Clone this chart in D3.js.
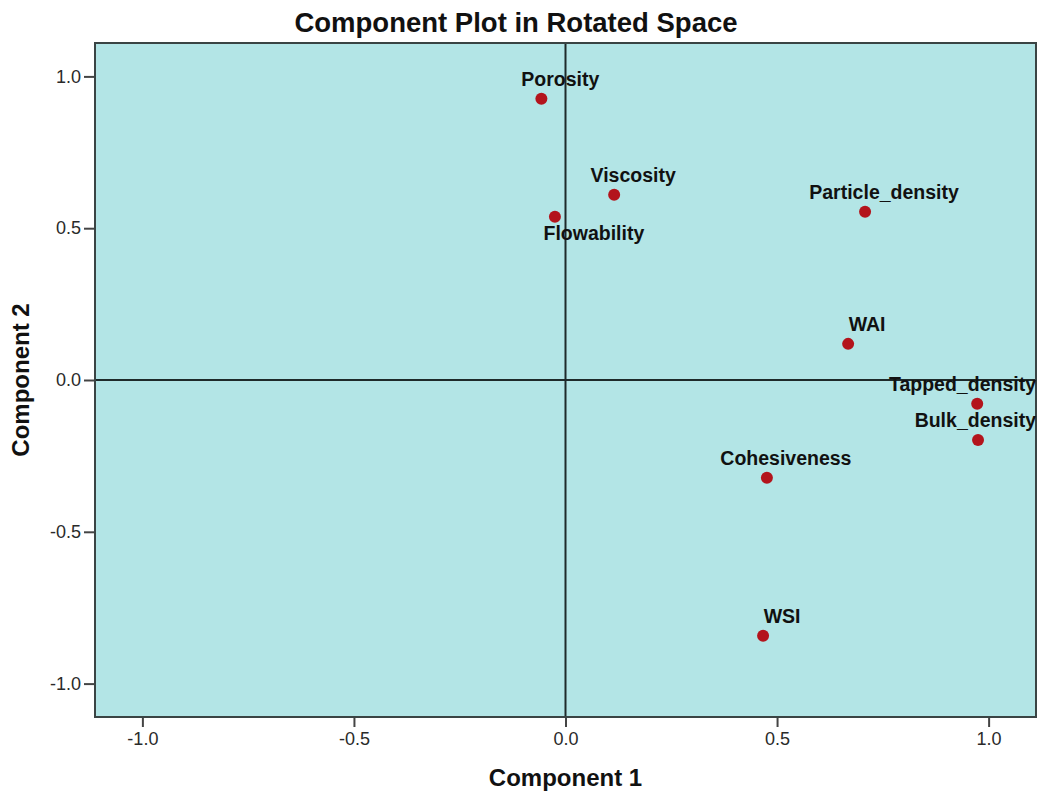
<!DOCTYPE html>
<html>
<head>
<meta charset="utf-8">
<script src="https://cdn.jsdelivr.net/npm/d3@7"></script>
<style>
    body { margin: 0; background: #fff; }
    text { font-family: Arial, "Liberation Sans", sans-serif; }
</style>
</head>
<body>
<div id="chart"></div>
<script>

// component loadings
var variables = ["Porosity", "Viscosity", "Flowability", "Particle_density", "WAI",
                 "Tapped_density", "Bulk_density", "Cohesiveness", "WSI"];
var component1 = [-0.057, 0.115, -0.025, 0.708, 0.668, 0.973, 0.975, 0.476, 0.467];
var component2 = [0.926, 0.610, 0.538, 0.554, 0.119, -0.078, -0.198, -0.322, -0.842];
var tickValues = [-1.0, -0.5, 0.0, 0.5, 1.0];

// labels sit above-right of the dot, except these
var labelBelow = ["Flowability"];

var data = variables.map(function(d, i) {
    return {name: d, x: component1[i], y: component2[i]};
});

var margin = {top: 43, bottom: 77, left: 95, right: 3};
var width = 1039 - margin.left - margin.right;
var height = 794 - margin.top - margin.bottom;

var svg = d3.select("#chart").append("svg")
    .attr("width", 1039)
    .attr("height", 794);

var g = svg.append("g")
    .attr("transform", "translate(" + margin.left + "," + margin.top + ")");

var x = d3.scaleLinear()
    .domain([-1.112, 1.112])
    .range([0, width]);

var y = d3.scaleLinear()
    .domain([-1.11, 1.11])
    .range([height, 0]);

// SPSS style labels use a plain hyphen for negatives
var fmt = function(d) { return d.toFixed(1); };

// plot background
g.append("rect")
    .attr("width", width)
    .attr("height", height)
    .attr("fill", "#b3e5e6");

// axes
var xAxis = d3.axisBottom(x)
    .tickValues(tickValues)
    .tickFormat(fmt)
    .tickSize(10)
    .tickPadding(5);

var yAxis = d3.axisLeft(y)
    .tickValues(tickValues)
    .tickFormat(fmt)
    .tickSize(11)
    .tickPadding(3);

var xAxisG = g.append("g")
    .attr("class", "axis x-axis")
    .attr("transform", "translate(0," + height + ")")
    .call(xAxis);

var yAxisG = g.append("g")
    .attr("class", "axis y-axis")
    .call(yAxis);

[xAxisG, yAxisG].forEach(function(a) {
    a.select(".domain").remove();
    a.selectAll(".tick line").attr("stroke", "#444").attr("stroke-width", 2);
    a.selectAll(".tick text")
        .attr("fill", "#2a2a2a")
        .style("font-size", "18px")
        .style("font-family", "Arial, 'Liberation Sans', sans-serif");
});

// reference lines at zero
g.append("line")
    .attr("x1", 0).attr("x2", width)
    .attr("y1", y(0)).attr("y2", y(0))
    .attr("stroke", "#1e2a2a")
    .attr("stroke-width", 2);

g.append("line")
    .attr("x1", x(0)).attr("x2", x(0))
    .attr("y1", 0).attr("y2", height)
    .attr("stroke", "#1e2a2a")
    .attr("stroke-width", 2);

// frame
g.append("rect")
    .attr("width", width)
    .attr("height", height)
    .attr("fill", "none")
    .attr("stroke", "#3a4444")
    .attr("stroke-width", 2);

// points
g.selectAll("circle.pt")
    .data(data)
    .enter()
    .append("circle")
    .attr("class", "pt")
    .attr("cx", function(d) { return x(d.x); })
    .attr("cy", function(d) { return y(d.y); })
    .attr("r", 6)
    .attr("fill", "#b3141c");

// labels
var labels = g.selectAll("text.lbl")
    .data(data)
    .enter()
    .append("text")
    .attr("class", "lbl")
    .attr("text-anchor", "middle")
    .attr("fill", "#111")
    .style("font-size", "19.5px")
    .style("font-weight", "bold")
    .text(function(d) { return d.name; })
    .attr("y", function(d) {
        return labelBelow.indexOf(d.name) >= 0 ? y(d.y) + 23 : y(d.y) - 13;
    })
    .attr("x", function(d) {
        return labelBelow.indexOf(d.name) >= 0 ? x(d.x) + 39 : x(d.x) + 19;
    });

// keep labels inside the plot frame
labels.each(function() {
    var t = d3.select(this);
    var w = this.getComputedTextLength();
    var cx = +t.attr("x");
    if (cx + w / 2 > width) t.attr("x", width - w / 2);
});

// titles
svg.append("text")
    .attr("x", 516)
    .attr("y", 32)
    .attr("text-anchor", "middle")
    .attr("fill", "#111")
    .style("font-size", "27.5px")
    .style("font-weight", "bold")
    .text("Component Plot in Rotated Space");

svg.append("text")
    .attr("x", margin.left + x(0))
    .attr("y", 786)
    .attr("text-anchor", "middle")
    .attr("fill", "#111")
    .style("font-size", "24px")
    .style("font-weight", "bold")
    .text("Component 1");

svg.append("text")
    .attr("transform", "translate(29," + (margin.top + y(0)) + ") rotate(-90)")
    .attr("text-anchor", "middle")
    .attr("fill", "#111")
    .style("font-size", "24px")
    .style("font-weight", "bold")
    .text("Component 2");

</script>
</body>
</html>
